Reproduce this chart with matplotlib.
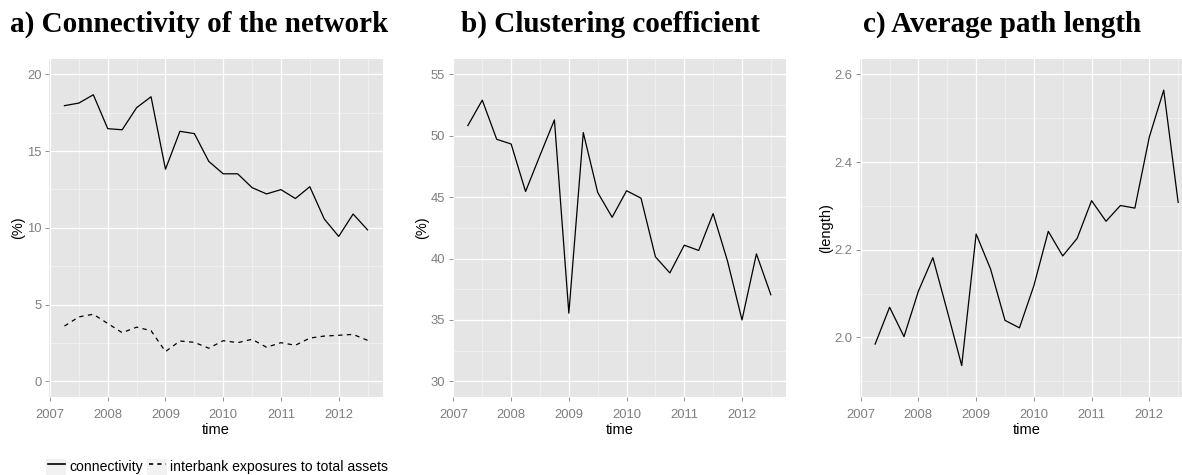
import numpy as np
import matplotlib
matplotlib.use("Agg")
import matplotlib.pyplot as plt
from matplotlib.lines import Line2D
from matplotlib.patches import Rectangle

# ---- data (quarterly, 2007Q2 .. 2012Q3) ----
time = [2007.25, 2007.5, 2007.75, 2008.0, 2008.25, 2008.5, 2008.75, 2009.0,
        2009.25, 2009.5, 2009.75, 2010.0, 2010.25, 2010.5, 2010.75, 2011.0,
        2011.25, 2011.5, 2011.75, 2012.0, 2012.25, 2012.5]
connectivity = [17.96, 18.13, 18.67, 16.46, 16.39, 17.83, 18.54, 13.82,
                16.29, 16.14, 14.33, 13.52, 13.52, 12.62, 12.21, 12.49,
                11.91, 12.68, 10.58, 9.44, 10.90, 9.87]
interbank = [3.60, 4.20, 4.37, 3.77, 3.17, 3.53, 3.30, 1.94,
             2.63, 2.54, 2.16, 2.65, 2.52, 2.74, 2.22, 2.52,
             2.35, 2.82, 2.95, 3.00, 3.06, 2.67]
clustering = [50.83, 52.90, 49.71, 49.33, 45.46, 48.40, 51.29, 35.55,
              50.26, 45.38, 43.36, 45.52, 44.92, 40.14, 38.83, 41.09,
              40.66, 43.66, 39.78, 35.00, 40.38, 37.05]
path_length = [1.985, 2.069, 2.002, 2.106, 2.182, 2.060, 1.936, 2.236,
               2.156, 2.039, 2.022, 2.118, 2.242, 2.186, 2.226, 2.312,
               2.265, 2.301, 2.295, 2.457, 2.564, 2.308]

x_ticks = [2007, 2008, 2009, 2010, 2011, 2012]
x_minor = [2007.5, 2008.5, 2009.5, 2010.5, 2011.5, 2012.5]
titles = ["a) Connectivity of the network", "b) Clustering coefficient",
          "c) Average path length"]
ylabels = ["(%)", "(%)", "(length)"]
legend_labels = ["connectivity", "interbank exposures to total assets"]

# ---- figure ----
W, H = 1182, 475
fig = plt.figure(figsize=(W / 100, H / 100), dpi=100)

SANS = ["Liberation Sans", "DejaVu Sans"]
SERIF = ["Liberation Serif", "DejaVu Serif"]

def px_axes(l, t, r, b):
    return fig.add_axes([l / W, 1 - b / H, (r - l) / W, (b - t) / H])

def style(ax, ylim, yticks, yminor, ylabel, fmt):
    ax.set_facecolor("#E5E5E5")
    for s in ax.spines.values():
        s.set_visible(False)
    tr = x_ticks
    xlo = min(time) - 0.05 * (max(time) - min(time))
    xhi = max(time) + 0.05 * (max(time) - min(time))
    ax.set_xlim(xlo, xhi)
    span = ylim[1] - ylim[0]
    ax.set_ylim(ylim[0] - 0.05 * span, ylim[1] + 0.05 * span)
    for v in x_minor:
        ax.axvline(v, color="#F2F2F2", lw=0.6, zorder=0.5)
    for v in yminor:
        ax.axhline(v, color="#F2F2F2", lw=0.6, zorder=0.5)
    for v in tr:
        ax.axvline(v, color="white", lw=0.9, zorder=0.6)
    for v in yticks:
        ax.axhline(v, color="white", lw=0.9, zorder=0.6)
    ax.set_xticks(tr)
    ax.set_xticklabels([str(t) for t in tr])
    ax.set_yticks(yticks)
    ax.set_yticklabels([fmt.format(v) for v in yticks])
    ax.tick_params(axis="both", colors="#7F7F7F", length=3.2, width=0.6,
                   labelsize=9.4)
    ax.tick_params(axis="x", pad=5.5)
    ax.tick_params(axis="y", pad=2.5)
    for lab in ax.get_xticklabels() + ax.get_yticklabels():
        lab.set_family(SANS)
        lab.set_color("#7F7F7F")
    ax.set_xlabel("time", fontsize=10.5, family=SANS, color="black", labelpad=1.5)
    ax.set_ylabel(ylabel, fontsize=10.5, family=SANS, color="black", labelpad=1)

# panel a
axa = px_axes(49.3, 59, 382.7, 396.7)
style(axa, (0, 20), [0, 5, 10, 15, 20], [2.5, 7.5, 12.5, 17.5], ylabels[0], "{:g}")
axa.plot(time, connectivity, color="black", lw=0.9, zorder=3)
axa.plot(time, interbank, color="black", lw=0.9, dashes=(3.5, 3.5), zorder=3)

# panel b
axb = px_axes(452.7, 59, 786.0, 396.7)
style(axb, (30, 55), [30, 35, 40, 45, 50, 55], [32.5, 37.5, 42.5, 47.5, 52.5],
      ylabels[1], "{:g}")
axb.plot(time, clustering, color="black", lw=0.9, zorder=3)

# panel c (extends past right edge, as in the reference)
axc = px_axes(860.0, 59, 1193.3, 396.7)
style(axc, (1.9, 2.6), [2.0, 2.2, 2.4, 2.6], [1.9, 2.1, 2.3, 2.5],
      ylabels[2], "{:.1f}")
axc.plot(time, path_length, color="black", lw=0.9, zorder=3)

# titles
for xc, t in zip([199, 610, 1002], titles):
    fig.text(xc / W, 1 - 24 / H, t, ha="center", va="center",
             fontsize=21, fontweight="bold", family=SERIF)

# legend (bottom-left, cut off at the image edge like the reference)
ptr = fig.transFigure
def fx(x):
    return x / W
def fy(y):
    return 1 - y / H
keys = [(46, 66), (147, 167)]
styles = [dict(ls="-"), dict(dashes=(2.5, 2.5))]
text_x = [69, 170]
for (k0, k1), st, tx, lab in zip(keys, styles, text_x, legend_labels):
    fig.patches.append(Rectangle((fx(k0), fy(477)), (k1 - k0) / W, 18 / H,
                                 transform=ptr, facecolor="#F2F2F2",
                                 edgecolor="none"))
    fig.lines.append(Line2D([fx(k0 + 1.5), fx(k1 - 1.5)], [fy(463.5), fy(463.5)],
                            transform=ptr, color="black", lw=1.2, **st))
    fig.text(fx(tx), fy(467.5), lab, ha="left", va="center", fontsize=10.1,
             family=SANS, color="black")

fig.savefig("out.png", dpi=100)
